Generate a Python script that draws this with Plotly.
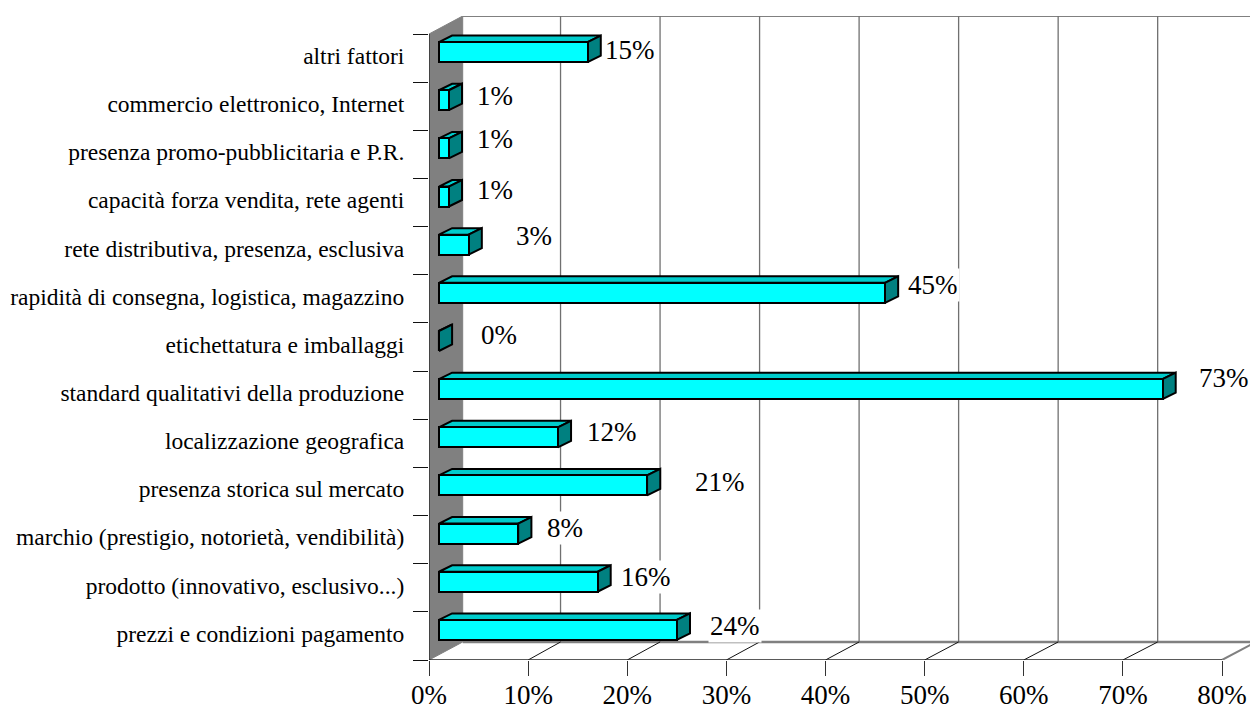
import plotly.graph_objects as go

categories = [
    "prezzi e condizioni pagamento",
    "prodotto (innovativo, esclusivo...)",
    "marchio (prestigio, notorietà, vendibilità)",
    "presenza storica sul mercato",
    "localizzazione geografica",
    "standard qualitativi della produzione",
    "etichettatura e imballaggi",
    "rapidità di consegna, logistica, magazzino",
    "rete distributiva, presenza, esclusiva",
    "capacità forza vendita, rete agenti",
    "presenza promo-pubblicitaria e P.R.",
    "commercio elettronico, Internet",
    "altri fattori",
]
values = [24, 16, 8, 21, 12, 73, 0, 45, 3, 1, 1, 1, 15]
x_ticks = [0, 10, 20, 30, 40, 50, 60, 70, 80]

# label placement (offsets from bar value / category centre, in axis units)
label_dx = [6.9, 5.9, 5.7, 8.4, 6.5, 7.2, 7.06, 5.8, 7.6, 5.66, 5.66, 5.66, 5.3]
label_dy = [0.21, 0.23, 0.25, 0.19, 0.23, 0.35, 0.25, 0.29, 0.31, 0.27, 0.31, 0.21, 0.17]

FONT = "Liberation Serif"
XMAX = (1250 - 429) / 9.9125
N = len(categories)
YMIN, YTOP = -0.5, N - 0.5
WALL_DX, WALL_DY = 3.4, 0.374
GRID_DX, GRID_SCALE = 3.23, 1.004
BAR_BASE, BAR_W, BAR_SHIFT = 1.0, 0.415, 0.125
DEPTH_X, DEPTH_Y = 1.33, 0.135
LABEL_SHIFT = 0.05
GREY = "#808080"


def seg(x0, y0, x1, y1, color=GREY, width=1.5):
    return dict(type="line", xref="x", yref="y", x0=x0, y0=y0, x1=x1, y1=y1,
                layer="below", line=dict(color=color, width=width))


shapes = []
wall = (f"M 0 {YMIN} L 0 {YTOP} L {WALL_DX} {YTOP + WALL_DY} "
        f"L {WALL_DX} {YMIN + WALL_DY} Z")
shapes.append(dict(type="path", xref="x", yref="y", path=wall, layer="below",
                   fillcolor=GREY, line=dict(color=GREY, width=1)))
shapes.append(seg(WALL_DX, YTOP + WALL_DY, XMAX, YTOP + WALL_DY, GREY, 2))
shapes.append(seg(WALL_DX, YMIN + WALL_DY, XMAX, YMIN + WALL_DY, GREY, 2.5))
shapes.append(seg(80, YMIN, 80 + WALL_DX, YMIN + WALL_DY, GREY, 2))
for t in x_ticks[1:-1]:
    back = t * GRID_SCALE + GRID_DX
    shapes.append(seg(back, YMIN + WALL_DY, back, YTOP + WALL_DY, "#707070", 1.3))
    shapes.append(seg(t, YMIN, back, YMIN + WALL_DY, "#111111", 1))
shapes.append(seg(0, YMIN, 80, YMIN, "#222222", 1.3))
shapes.append(seg(0, YMIN, 0, YTOP, "#222222", 1.3))

top_x, top_y, side_x, side_y = [], [], [], []
for i, v in enumerate(values):
    lo = i + BAR_SHIFT - BAR_W / 2
    hi = i + BAR_SHIFT + BAR_W / 2
    end = BAR_BASE + v
    top_x += [BAR_BASE, BAR_BASE + DEPTH_X, end + DEPTH_X, end, BAR_BASE, None]
    top_y += [hi, hi + DEPTH_Y, hi + DEPTH_Y, hi, hi, None]
    side_x += [end, end + DEPTH_X, end + DEPTH_X, end, end, None]
    side_y += [lo, lo + DEPTH_Y, hi + DEPTH_Y, hi, lo, None]

fig = go.Figure()
fig.add_trace(go.Bar(
    orientation="h", y=list(range(N)), x=values, base=BAR_BASE, offset=-BAR_W / 2 + BAR_SHIFT,
    width=BAR_W, yaxis="y2", marker=dict(color="#00FFFF", line=dict(color="black", width=2)),
    hoverinfo="skip", showlegend=False))
fig.add_trace(go.Scatter(x=top_x, y=top_y, mode="lines", fill="toself", fillcolor="#00CCCC",
                         line=dict(color="black", width=2), hoverinfo="skip", showlegend=False))
fig.add_trace(go.Scatter(x=side_x, y=side_y, mode="lines", fill="toself", fillcolor="#008080",
                         line=dict(color="black", width=2), hoverinfo="skip", showlegend=False))

annotations = [
    dict(x=v + dx, y=i + dy, xref="x", yref="y", text=f"{v}%", showarrow=False,
         xanchor="center", yanchor="middle", bgcolor="white", borderpad=1,
         font=dict(family=FONT, size=27, color="black"))
    for i, (v, dx, dy) in enumerate(zip(values, label_dx, label_dy))
]

fig.update_layout(
    width=1250, height=709, margin=dict(l=429, r=0, t=16, b=49, pad=0),
    paper_bgcolor="white", plot_bgcolor="white", showlegend=False, bargap=0,
    shapes=shapes, annotations=annotations,
    font=dict(family=FONT, color="black"),
    xaxis=dict(range=[0, XMAX], tickmode="array", tickvals=x_ticks, automargin=False,
               ticktext=[f"{t}%" for t in x_ticks], ticks="outside", ticklen=15, tickwidth=1.3,
               ticklabelstandoff=-4,
               tickcolor="#333333", showgrid=False, zeroline=False, showline=False,
               tickfont=dict(family=FONT, size=27, color="black")),
    yaxis=dict(range=[YMIN, YTOP + WALL_DY], tickmode="array", automargin=False,
               tickvals=[k - 0.5 for k in range(N + 1)], showticklabels=False,
               ticks="outside", ticklen=15, tickwidth=1.3, tickcolor="#111111",
               showgrid=False, zeroline=False, showline=False),
    yaxis2=dict(range=[YMIN, YTOP + WALL_DY], overlaying="y", side="left", tickmode="array",
                tickvals=[k + LABEL_SHIFT for k in range(N)], ticktext=categories,
                ticks="outside", ticklen=19,
                automargin=False, tickcolor="rgba(0,0,0,0)", showgrid=False, zeroline=False,
                showline=False, tickfont=dict(family=FONT, size=23.5, color="black")),
)

fig.write_html("out.html", config={"displayModeBar": False},
               post_script="document.body.style.margin='0';document.body.style.overflow='hidden';")
